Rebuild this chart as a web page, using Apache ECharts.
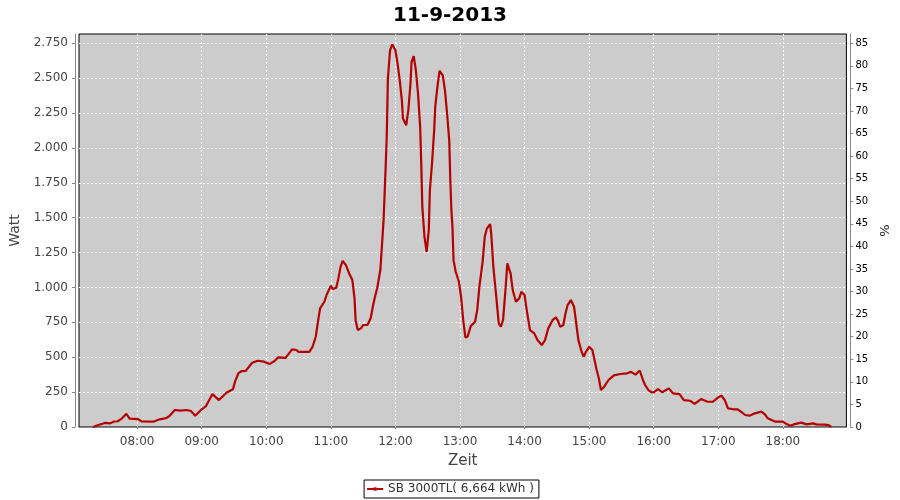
<!DOCTYPE html>
<html>
<head>
<meta charset="utf-8">
<script src="https://cdn.jsdelivr.net/npm/echarts@6/dist/echarts.min.js"></script>
<style>html,body{margin:0;padding:0;background:#fff;}#c{width:900px;height:500px;}</style>
</head>
<body>
<div id="c"></div>
<script>
const titleText = "11-9-2013";
const seriesName = "SB 3000TL( 6,664 kWh )";
const times = [
"07:19","07:24","07:30","07:35","07:38","07:42","07:46","07:50","07:53",
"08:01","08:04","08:15","08:21","08:27","08:30","08:35","08:40","08:46","08:50","08:54",
"09:00","09:04","09:07","09:10","09:16","09:23","09:29","09:31","09:34","09:37","09:41","09:47","09:52","09:58",
"10:03","10:08","10:11","10:18","10:24","10:28","10:30","10:40","10:43","10:46","10:48","10:50","10:54","10:56",
"11:00","11:02","11:05","11:07","11:09","11:11","11:14","11:17","11:20","11:22","11:23","11:25","11:28","11:30","11:34","11:37","11:39","11:41","11:43","11:46","11:47","11:49","11:51","11:52","11:53","11:55","11:57",
"12:00","12:02","12:04","12:06","12:07","12:10","12:12","12:14","12:15","12:17","12:19","12:21","12:23","12:24","12:25","12:27","12:29","12:31","12:32","12:34","12:36","12:37","12:39","12:41","12:44","12:46","12:48","12:50","12:51","12:52","12:53","12:54","12:56","12:59",
"13:01","13:03","13:05","13:07","13:10","13:14","13:16","13:18","13:21","13:23","13:25","13:28","13:29","13:31","13:34","13:36","13:38","13:40","13:42","13:44","13:45","13:47","13:49","13:52","13:55","13:57",
"14:00","14:02","14:05","14:09","14:12","14:16","14:19","14:22","14:26","14:29","14:31","14:33","14:36","14:38","14:40","14:43","14:46","14:48","14:50","14:53","14:55","14:57",
"15:00","15:03","15:05","15:07","15:09","15:11","15:14","15:18","15:23","15:29","15:35","15:39","15:43","15:47","15:50","15:52","15:55","15:58",
"16:00","16:04","16:08","16:14","16:18","16:24","16:28","16:34","16:38","16:44","16:50","16:55",
"17:00","17:03","17:06","17:09","17:14","17:18","17:21","17:25","17:29","17:34","17:40","17:43","17:46","17:53",
"18:00","18:04","18:07","18:11","18:17","18:22","18:28","18:31","18:39","18:42","18:45"
];
const watts = [
0,14,29,26,38,41,62,95,60,
57,41,38,55,64,79,122,117,122,115,81,
127,150,193,236,193,246,270,325,385,401,403,461,475,468,
451,475,499,496,556,552,539,539,575,647,754,850,898,946,
1012,989,998,1065,1148,1191,1160,1101,1053,922,766,695,707,731,731,779,862,933,993,1125,1244,1483,1877,2104,2498,2700,2743,
2700,2605,2486,2342,2211,2163,2271,2462,2617,2658,2557,2390,2151,1889,1578,1363,1256,1411,1698,1889,2127,2294,2438,2552,2521,2414,2247,2056,1769,1554,1435,1196,1113,1041,
933,766,642,647,723,754,838,1005,1184,1363,1423,1454,1387,1148,910,743,719,766,958,1173,1184,1101,981,898,922,969,
946,838,695,671,623,587,623,707,766,786,762,719,731,814,874,910,862,743,623,539,504,539,
575,552,480,408,349,265,289,337,370,380,385,395,375,405,337,301,265,249,
249,272,249,277,241,236,193,188,165,200,181,181,
213,224,193,134,127,127,110,86,81,98,110,93,62,38,
38,19,9,21,31,19,26,19,17,14,2
];
const xTickLabels = ["08:00","09:00","10:00","11:00","12:00","13:00","14:00","15:00","16:00","17:00","18:00"];
const wattTicks = [0,250,500,750,1000,1250,1500,1750,2000,2250,2500,2750];
const pctTicks = [0,5,10,15,20,25,30,35,40,45,50,55,60,65,70,75,80,85];

function toMin(s){const p=s.split(":");return (+p[0])*60+(+p[1]);}
function fmtMin(v){const h=Math.floor(v/60),m=Math.round(v%60);return (h<10?"0":"")+h+":"+(m<10?"0":"")+m;}
function fmtDE(v){return String(v).replace(/\B(?=(\d{3})+(?!\d))/g,".");}

const seriesData = times.map((t,i)=>[toMin(t), watts[i]]);
const xTickVals = xTickLabels.map(toMin);

const FONT = "DejaVu Sans";
const chart = echarts.init(document.getElementById('c'), null, {renderer:'canvas'});
chart.setOption({
  animation:false,
  backgroundColor:'#ffffff',
  title:{text:titleText,left:'center',top:1,textStyle:{fontFamily:FONT,fontSize:20,fontWeight:'bold',color:'#000'}},
  legend:{
    bottom:2,left:'center',
    data:[{name:seriesName}],
    borderColor:'#000',borderWidth:1,borderRadius:0,
    padding:[3,5,3,2],
    itemWidth:16,itemHeight:4,itemGap:5,
    textStyle:{fontFamily:FONT,fontSize:12,color:'#333',padding:[0,0,0,0]}
  },
  grid:{left:79,top:34,right:52,bottom:73,show:true,backgroundColor:'#cccccc',borderColor:'#000',borderWidth:1,containLabel:false},
  xAxis:{
    type:'value',min:426,max:1139,offset:4,
    name:'Zeit',nameLocation:'middle',nameGap:23,
    nameTextStyle:{fontFamily:FONT,fontSize:15,color:'#444'},
    axisLine:{show:true,lineStyle:{color:'#888',width:1}},
    axisTick:{show:true,length:2,lineStyle:{color:'#888'},customValues:xTickVals},
    axisLabel:{customValues:xTickVals,formatter:fmtMin,fontFamily:FONT,fontSize:12,color:'#444',margin:5},
    splitLine:{show:true,lineStyle:{color:'#ffffff',type:[2,2],width:1}}
  },
  yAxis:[{
    type:'value',min:0,max:2817,position:'left',offset:4,
    name:'Watt',nameLocation:'middle',nameGap:43,nameRotate:90,
    nameTextStyle:{fontFamily:FONT,fontSize:14,color:'#444'},
    axisLine:{show:true,lineStyle:{color:'#888',width:1}},
    axisTick:{show:true,length:3,lineStyle:{color:'#888'},customValues:wattTicks},
    axisLabel:{customValues:wattTicks,formatter:fmtDE,fontFamily:FONT,fontSize:12,color:'#444',margin:7},
    splitLine:{show:true,lineStyle:{color:'#ffffff',type:[2,2],width:1}}
  },{
    type:'value',min:0,max:87.06,position:'right',offset:4,
    name:'%',nameLocation:'middle',nameGap:22,nameRotate:90,
    nameTextStyle:{fontFamily:FONT,fontSize:13,color:'#222'},
    axisLine:{show:true,lineStyle:{color:'#888',width:1}},
    axisTick:{show:true,length:3,lineStyle:{color:'#888'},customValues:pctTicks},
    axisLabel:{customValues:pctTicks,fontFamily:FONT,fontSize:10,color:'#000',margin:5},
    splitLine:{show:false}
  }],
  series:[{
    name:seriesName,type:'line',data:seriesData,yAxisIndex:0,
    showSymbol:false,symbol:'rect',symbolSize:3,
    lineStyle:{color:'#b40000',width:2.2},
    itemStyle:{color:'#b40000'}
  }]
});
</script>
</body>
</html>
